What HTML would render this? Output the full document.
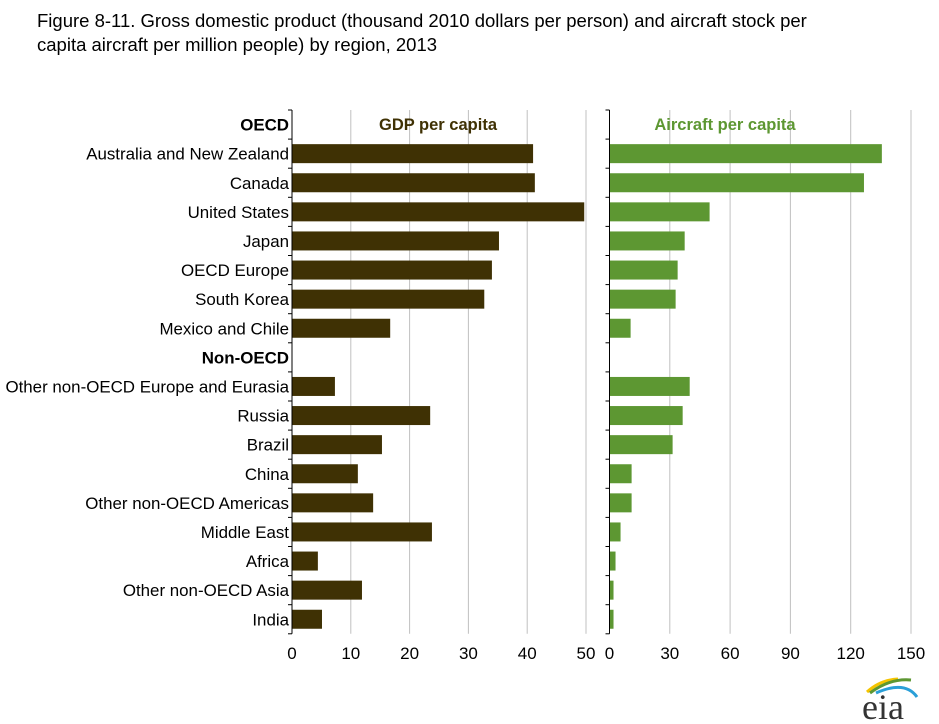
<!DOCTYPE html>
<html><head><meta charset="utf-8"><style>
body{margin:0;background:#fff;font-family:"Liberation Sans",Arial,sans-serif;}
#t{position:absolute;left:37px;top:9px;font-size:18.5px;line-height:24px;color:#000;}
</style></head><body>
<div id="t">Figure 8-11. Gross domestic product (thousand 2010 dollars per person) and aircraft stock per<br>capita aircraft per million people) by region, 2013</div>
<svg id="c" width="939" height="724" style="position:absolute;left:0;top:0"></svg>
<script>
const categories=["OECD","Australia and New Zealand","Canada","United States","Japan","OECD Europe","South Korea","Mexico and Chile","Non-OECD","Other non-OECD Europe and Eurasia","Russia","Brazil","China","Other non-OECD Americas","Middle East","Africa","Other non-OECD Asia","India"];
const headers=["OECD","Non-OECD"];
const gdp=[null,41.0,41.3,49.7,35.2,34.0,32.7,16.7,null,7.3,23.5,15.3,11.2,13.8,23.8,4.4,11.9,5.1];
const aircraft=[null,135.5,126.6,49.8,37.4,33.9,32.9,10.5,null,39.9,36.4,31.4,11,11,5.5,3,2,2];
const gdpTicks=[0,10,20,30,40,50];
const airTicks=[0,30,60,90,120,150];
const NS="http://www.w3.org/2000/svg";
const svg=document.getElementById('c');
const top0=110,band=29.1,barH=19;
const xG=v=>292+v*5.88;
const xA=v=>609.5+v*2.01;
const yB=i=>top0+i*band;
function mk(tag,attrs,txt){const e=document.createElementNS(NS,tag);for(const k in attrs)e.setAttribute(k,attrs[k]);if(txt!=null)e.textContent=txt;svg.appendChild(e);return e;}
gdpTicks.forEach(t=>{if(t>0){const l=mk('line',{x1:xG(t),x2:xG(t),y1:top0,y2:top0+18*band,stroke:'#c0c0c0','stroke-width':1});

}
const tx=mk('text',{x:xG(t),y:659,'text-anchor':'middle','font-size':17},t);

});
airTicks.forEach(t=>{if(t>0){const l=mk('line',{x1:xA(t),x2:xA(t),y1:top0,y2:top0+18*band,stroke:'#c0c0c0','stroke-width':1});

}
const tx=mk('text',{x:xA(t),y:659,'text-anchor':'middle','font-size':17},t);

});
categories.forEach((c,i)=>{
 const cy=yB(i)+band/2;
 const isH=headers.includes(c);
 const lab=mk('text',{x:289,y:cy+6,'text-anchor':'end','font-size':16.9,'font-weight':isH?'bold':'normal'},c);
 
 
 if(gdp[i]!=null){const r=mk('rect',{x:xG(0),y:cy-barH/2,width:xG(gdp[i])-xG(0),height:barH,fill:'#3f3104'});
 
 }
 if(aircraft[i]!=null){const r=mk('rect',{x:xA(0),y:cy-barH/2,width:xA(aircraft[i])-xA(0),height:barH,fill:'#5d9732'});
 
 }
});
[xG(0),xA(0)].forEach((x,k)=>{
 const a=mk('line',{x1:x,x2:x,y1:top0,y2:top0+18*band,stroke:'#000','stroke-width':1});
 
 
 for(let i=0;i<=18;i++){mk('line',{x1:x-4,x2:x,y1:yB(i),y2:yB(i),stroke:'#000','stroke-width':1});}
});
const h1=mk('text',{x:438,y:130,'text-anchor':'middle','font-size':16.5,'font-weight':'bold',fill:'#3f3104'},'GDP per capita');


const h2=mk('text',{x:725,y:130,'text-anchor':'middle','font-size':16.5,'font-weight':'bold',fill:'#5d9732'},'Aircraft per capita');


const g=document.createElementNS(NS,'g');svg.appendChild(g);


g.innerHTML='<path d="M867,692 Q880,680 898,679" stroke="#f5c400" stroke-width="3" fill="none"/><path d="M870,693 Q890,678 911,680" stroke="#5d9732" stroke-width="3" fill="none"/><path d="M876,693 Q905,680 917,697" stroke="#2a9fd8" stroke-width="3" fill="none"/><text x="862" y="719" font-family="Liberation Serif,serif" font-size="36" fill="#333">eia</text>';
</script>
</body></html>
